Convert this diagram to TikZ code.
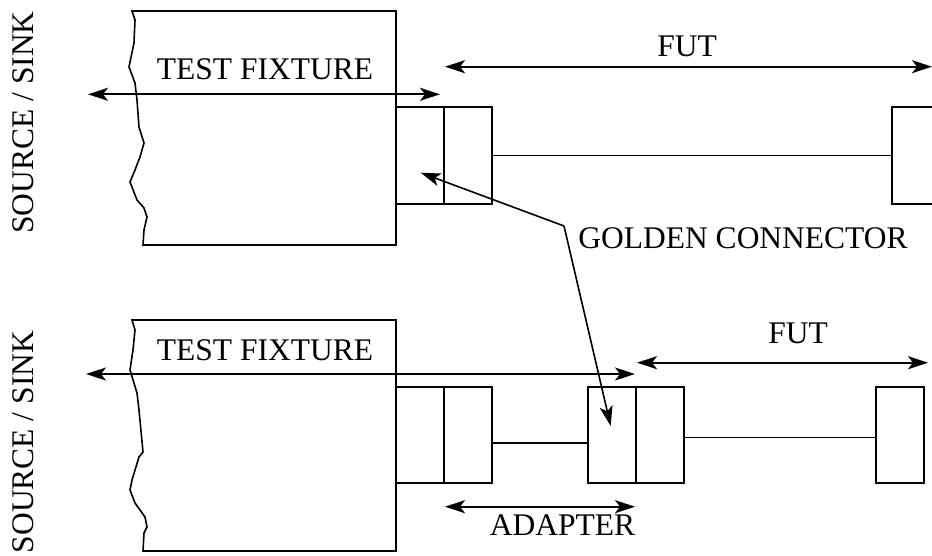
\documentclass[tikz,border=0pt]{standalone}
\usepackage{fontspec}
\setmainfont{Liberation Serif}
\usetikzlibrary{arrows.meta,positioning}

\begin{document}
\begin{tikzpicture}[x=0.5pt,y=-0.5pt,every node/.style={font=\fontsize{15.75}{18}\selectfont,inner sep=0pt},
  conbox/.style={draw,line width=1pt,outer sep=0pt,minimum width=24pt,minimum height=48.3pt},
  dim/.style={{Stealth[length=10pt,width=6.5pt,inset=2.5pt]}-{Stealth[length=10pt,width=6.5pt,inset=2.5pt]},line width=0.9pt},
  pointer/.style={-{Stealth[length=10pt,width=6.5pt,inset=2.5pt]},line width=0.8pt},
  cable/.style={line width=0.8pt},fixture/.style={line width=0.8pt}]
\useasboundingbox (0,0) rectangle (932,556);
% upper set-up
\draw[fixture] (132,11) -- (396,11) -- (396,245) -- (143,245) -- (144,230) -- (147,217) -- (144,208) -- (137,200) -- (130,182) -- (135,170) -- (140,157) -- (144,143) -- (139,127) -- (137,100) -- (135,83) -- (129,67) -- (134,43) -- (135,20) -- cycle;
\node[anchor=base] (fixTop) at (265,80) {TEST FIXTURE};
\node[rotate=90,anchor=base] (srcTop) at (33,122.5) {SOURCE / SINK};
\node[conbox] (tA) at (420,155.5) {};
\node[conbox,right=0pt of tA] (tB) {};
\node[conbox] (tR) at (916,155.5) {};
\draw[cable] (tB.east) -- (tR.west);
\coordinate (tL1) at (88,94.3);\coordinate (tL2) at (440,94.3);
\draw[dim] (tL1) -- (tL2);
\coordinate (tF1) at (445,66.7);\coordinate (tF2) at (932,66.7);
\draw[dim] (tF1) -- (tF2);
\node[anchor=base] (futTop) at (687,56.7) {FUT};
% golden connector callout
\node[anchor=base west] (gold) at (578,248) {GOLDEN CONNECTOR};
\coordinate (gk) at (564,226);
\coordinate (gTop) at (420.7,172.7);\coordinate (gBot) at (610.7,426);
\draw[pointer] (gk) -- (gTop);
\draw[pointer] (gk) -- (gBot);
% lower set-up
\draw[fixture] (132,320) -- (396,320) -- (396,551) -- (143,551) -- (144,533) -- (147,527) -- (145,517) -- (135,503) -- (130,490) -- (132,480) -- (139,457) -- (143,452) -- (139,410) -- (137,393) -- (130,370) -- (133,350) -- (135,330) -- cycle;
\node[anchor=base] (fixBot) at (265,360) {TEST FIXTURE};
\node[rotate=90,anchor=base] (srcBot) at (33,442) {SOURCE / SINK};
\node[conbox] (bA) at (420,435) {};
\node[conbox,right=0pt of bA] (bB) {};
\node[conbox] (bC) at (612,435) {};
\node[conbox,right=0pt of bC] (bD) {};
\node[conbox] (bE) at (899.5,435) {};
\draw[cable] ([yshift=-4pt]bB.east) -- ([yshift=-4pt]bC.west);
\draw[cable] ([yshift=-1.3pt]bD.east) -- ([yshift=-1.3pt]bE.west);
\coordinate (bL1) at (86,374);\coordinate (bL2) at (635,374);
\draw[dim] (bL1) -- (bL2);
\coordinate (bF1) at (637,362.7);\coordinate (bF2) at (928,362.7);
\draw[dim] (bF1) -- (bF2);
\node[anchor=base] (futBot) at (798,343.3) {FUT};
\coordinate (ad1) at (445,506.7);\coordinate (ad2) at (635,506.7);
\draw[dim] (ad1) -- (ad2);
\node[anchor=base] (adapter) at (562.5,535) {ADAPTER};
\end{tikzpicture}
\end{document}
